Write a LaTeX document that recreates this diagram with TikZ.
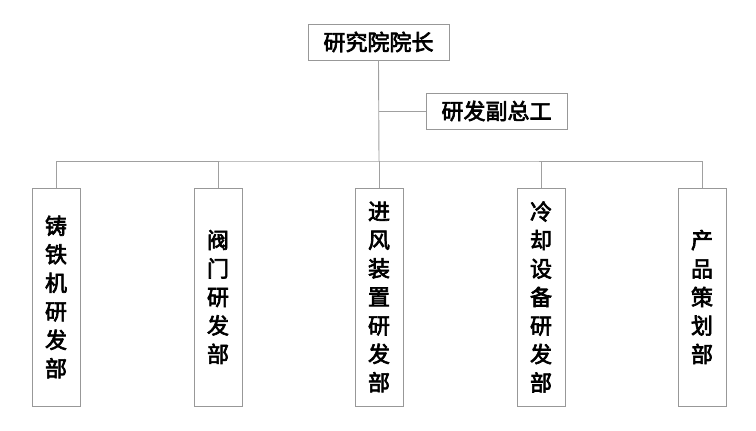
\documentclass[tikz,border=0pt]{standalone}
\usepackage{fontspec}
\newfontfamily\cjk{Noto Sans CJK SC}[FakeBold=3]
\definecolor{linegray}{HTML}{A0A0A0}
\definecolor{boxgray}{HTML}{989898}
\tikzset{
  hbox/.style={draw=boxgray, line width=0.9pt, fill=white, minimum height=36pt, inner sep=0pt,
    font=\cjk\fontsize{22}{22}\selectfont},
  vbox/.style={draw=boxgray, line width=0.9pt, fill=white, minimum width=48pt, minimum height=218pt,
    inner sep=0pt, align=center, font=\cjk\fontsize{22}{28.5}\selectfont},
  conn/.style={draw=linegray, line width=0.9pt}
}
\begin{document}
\begin{tikzpicture}[x=1pt,y=1pt]
\useasboundingbox (0,0) rectangle (756,-431);
\node[hbox, minimum width=141pt] (head) at (378.5,-42) {研究院院长};
\node[hbox, minimum width=141pt] (vice) at (496.5,-111) {研发副总工};
\coordinate (bj) at (379,-111);
\coordinate (bus) at (379,-161);
\node[vbox] (d1) at (56,-297) {铸\\铁\\机\\研\\发\\部};
\node[vbox] (d2) at (218,-297) {阀\\门\\研\\发\\部};
\node[vbox] (d3) at (379,-297) {进\\风\\装\\置\\研\\发\\部};
\node[vbox] (d4) at (541,-297) {冷\\却\\设\\备\\研\\发\\部};
\node[vbox] (d5) at (702,-297) {产\\品\\策\\划\\部};
\draw[conn] (head.south) -- (bus);
\draw[conn] (bj) -- (vice.west);
\draw[conn] (d1.north) |- (bus) -| (d5.north);
\draw[conn] (d2.north) -- (d2.north |- bus);
\draw[conn] (d3.north) -- (bus);
\draw[conn] (d4.north) -- (d4.north |- bus);
\end{tikzpicture}
\end{document}
